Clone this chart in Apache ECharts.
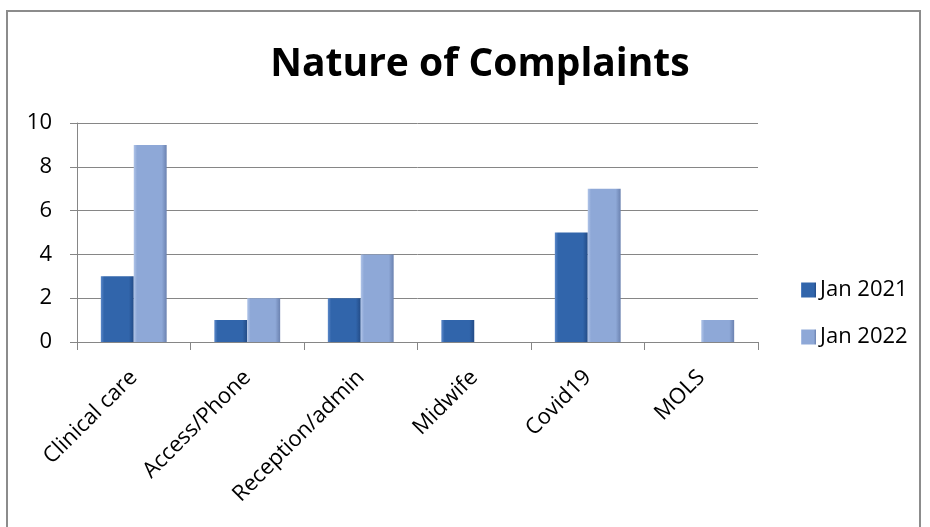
<!DOCTYPE html>
<html>
<head>
<meta charset="utf-8">
<script src="https://cdn.jsdelivr.net/npm/echarts@6/dist/echarts.min.js"></script>
<style>
    html, body { margin: 0; padding: 0; background: #ffffff; }
    #frame {
        position: absolute;
        left: 6px;
        top: 10px;
        width: 915px;
        height: 530px;
        border: 2px solid #8c8c8c;
        box-sizing: border-box;
    }
    #chart { position: absolute; left: 0; top: 0; width: 930px; height: 527px; }
</style>
</head>
<body>
<div id="frame"></div>
<div id="chart"></div>
<script>
    const categories = ['Clinical care', 'Access/Phone', 'Reception/admin', 'Midwife', 'Covid19', 'MOLS'];
    const jan2021 = [3, 1, 2, 1, 5, 0];
    const jan2022 = [9, 2, 4, 0, 7, 1];
    const yTicks = [0, 2, 4, 6, 8, 10];

    const font = 'Open Sans, sans-serif';

    // bevelled look: lighter left edge, darker right edge
    function bevel(light, mid, dark) {
        return new echarts.graphic.LinearGradient(0, 0, 1, 0, [
            { offset: 0, color: light },
            { offset: 0.1, color: mid },
            { offset: 0.85, color: mid },
            { offset: 1, color: dark },
        ]);
    }

    const chart = echarts.init(document.getElementById('chart'));
    chart.setOption({
        animation: false,
        title: {
            text: 'Nature of Complaints',
            left: 475,
            top: 40,
            textAlign: 'center',
            textStyle: { fontFamily: font, fontWeight: 'bold', fontSize: 39, color: '#000' },
        },
        legend: {
            orient: 'vertical',
            left: 801,
            top: 279,
            padding: 0,
            itemGap: 25,
            itemWidth: 15,
            itemHeight: 15,
            icon: 'rect',
            textStyle: { fontFamily: font, fontSize: 22, color: '#000', padding: [0, 0, 0, -1] },
            data: ['Jan 2021', 'Jan 2022'],
        },
        grid: { left: 77, right: 172, top: 123, bottom: 185 },
        xAxis: {
            type: 'category',
            data: categories,
            axisLine: { lineStyle: { color: '#868686', width: 1 } },
            axisTick: { show: true, length: 8, lineStyle: { color: '#868686' } },
            axisLabel: {
                rotate: 45,
                interval: 0,
                margin: 32,
                fontFamily: font,
                fontSize: 22,
                color: '#000',
            },
        },
        yAxis: {
            type: 'value',
            min: 0,
            max: 10,
            interval: 2,
            axisLine: { show: true, lineStyle: { color: '#868686', width: 1 } },
            axisTick: { show: true, length: 7, lineStyle: { color: '#868686' } },
            splitLine: { lineStyle: { color: '#868686', width: 1 } },
            axisLabel: {
                fontFamily: font,
                fontSize: 22,
                color: '#000',
                margin: 25,
                formatter: v => (yTicks.includes(v) ? String(v) : ''),
            },
        },
        series: [
            {
                name: 'Jan 2021',
                type: 'bar',
                data: jan2021,
                barGap: '0%',
                barCategoryGap: '42%',
                itemStyle: { color: bevel('#5b88c9', '#3165ab', '#234b86') },
            },
            {
                name: 'Jan 2022',
                type: 'bar',
                data: jan2022,
                itemStyle: { color: bevel('#b0c4e8', '#8ea8d7', '#6b82b0') },
            },
        ],
    });
</script>
</body>
</html>
